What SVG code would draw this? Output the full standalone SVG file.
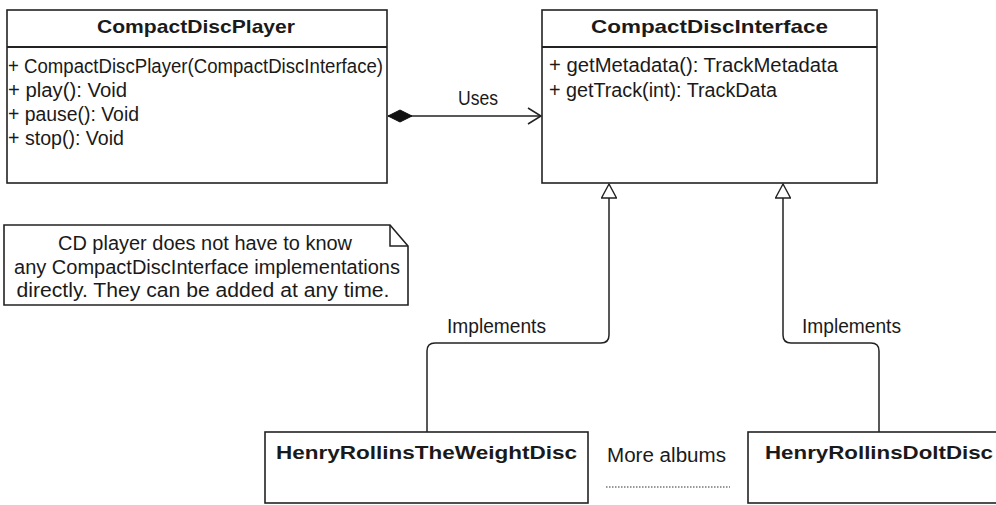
<svg xmlns="http://www.w3.org/2000/svg" width="996" height="505" viewBox="0 0 996 505">
<defs>
<style>
.box{fill:#fff;stroke:#222;stroke-width:1.6}
.sep{stroke:#222;stroke-width:2.2}
.t{font-family:"Liberation Sans",Arial,sans-serif;font-size:20px;fill:#1a1a1a}
.b{font-family:"Liberation Sans",Arial,sans-serif;font-size:19px;font-weight:bold;fill:#1a1a1a}
.c{fill:none;stroke:#222;stroke-width:1.5}
</style>
<marker id="diamond" markerWidth="28" markerHeight="14" refX="1" refY="7" orient="auto" markerUnits="userSpaceOnUse">
<path d="M1,7 L13,1 L25,7 L13,13 Z" fill="#111" stroke="#111" stroke-width="1"/>
</marker>
<marker id="open" markerWidth="16" markerHeight="18" refX="14" refY="9" orient="auto" markerUnits="userSpaceOnUse">
<path d="M1,1 L14,9 L1,17" fill="none" stroke="#222" stroke-width="1.5"/>
</marker>
<marker id="tri" markerWidth="20" markerHeight="16" refX="15" refY="8" orient="auto" markerUnits="userSpaceOnUse">
<path d="M15,8 L1,0.5 L1,15.5 Z" fill="#fff" stroke="#222" stroke-width="1.4"/>
</marker>
</defs>
<rect width="996" height="505" fill="#fff"/>

<g id="connectors">
<path class="c" d="M388,116 L541,116" marker-start="url(#diamond)" marker-end="url(#open)"/>
<text class="t" x="478" y="105" text-anchor="middle" textLength="40" lengthAdjust="spacingAndGlyphs">Uses</text>
<path class="c" d="M427,432 L427,351 Q427,343 435,343 L601,343 Q609,343 609,335 L609,184" marker-end="url(#tri)"/>
<text class="t" x="496.5" y="333" text-anchor="middle" textLength="99" lengthAdjust="spacingAndGlyphs">Implements</text>
<path class="c" d="M879,432 L879,351 Q879,343 871,343 L791,343 Q783,343 783,335 L783,184" marker-end="url(#tri)"/>
<text class="t" x="851.5" y="333" text-anchor="middle" textLength="99" lengthAdjust="spacingAndGlyphs">Implements</text>
</g>

<g id="CompactDiscPlayer">
<rect class="box" x="7" y="10" width="380" height="173"/>
<line class="sep" x1="7" y1="47" x2="387" y2="47"/>
<text class="b" x="196" y="33" text-anchor="middle" textLength="198" lengthAdjust="spacingAndGlyphs">CompactDiscPlayer</text>
<text class="t" x="8" y="73" textLength="375" lengthAdjust="spacingAndGlyphs">+ CompactDiscPlayer(CompactDiscInterface)</text>
<text class="t" x="8" y="97" textLength="119" lengthAdjust="spacingAndGlyphs">+ play(): Void</text>
<text class="t" x="8" y="121" textLength="131" lengthAdjust="spacingAndGlyphs">+ pause(): Void</text>
<text class="t" x="8" y="145" textLength="116" lengthAdjust="spacingAndGlyphs">+ stop(): Void</text>
</g>

<g id="CompactDiscInterface">
<rect class="box" x="542" y="10" width="335" height="173"/>
<line class="sep" x1="542" y1="47" x2="877" y2="47"/>
<text class="b" x="709.5" y="33" text-anchor="middle" textLength="237" lengthAdjust="spacingAndGlyphs">CompactDiscInterface</text>
<text class="t" x="549" y="72" textLength="289" lengthAdjust="spacingAndGlyphs">+ getMetadata(): TrackMetadata</text>
<text class="t" x="549" y="97" textLength="228" lengthAdjust="spacingAndGlyphs">+ getTrack(int): TrackData</text>
</g>

<g id="note">
<path class="box" d="M4,225 L390,225 L408,246 L408,305 L4,305 Z"/>
<path class="c" d="M390,225 L390,246 L408,246"/>
<text class="t" x="205" y="250" text-anchor="middle" textLength="294" lengthAdjust="spacingAndGlyphs">CD player does not have to know</text>
<text class="t" x="207" y="274" text-anchor="middle" textLength="386" lengthAdjust="spacingAndGlyphs">any CompactDiscInterface implementations</text>
<text class="t" x="203" y="297" text-anchor="middle" textLength="373" lengthAdjust="spacingAndGlyphs">directly. They can be added at any time.</text>
</g>

<g id="HenryRollinsTheWeightDisc">
<rect class="box" x="265" y="432" width="323" height="71"/>
<text class="b" x="276" y="459" textLength="301" lengthAdjust="spacingAndGlyphs">HenryRollinsTheWeightDisc</text>
</g>

<g id="more">
<text class="t" x="607" y="462" textLength="119" lengthAdjust="spacingAndGlyphs">More albums</text>
<line x1="606" y1="487" x2="730" y2="487" stroke="#333" stroke-width="1.2" stroke-dasharray="1.5,1.5"/>
</g>

<g id="HenryRollinsDoItDisc">
<rect class="box" x="748" y="432" width="260" height="71"/>
<text class="b" x="765" y="459" textLength="228" lengthAdjust="spacingAndGlyphs">HenryRollinsDoltDisc</text>
</g>
</svg>
